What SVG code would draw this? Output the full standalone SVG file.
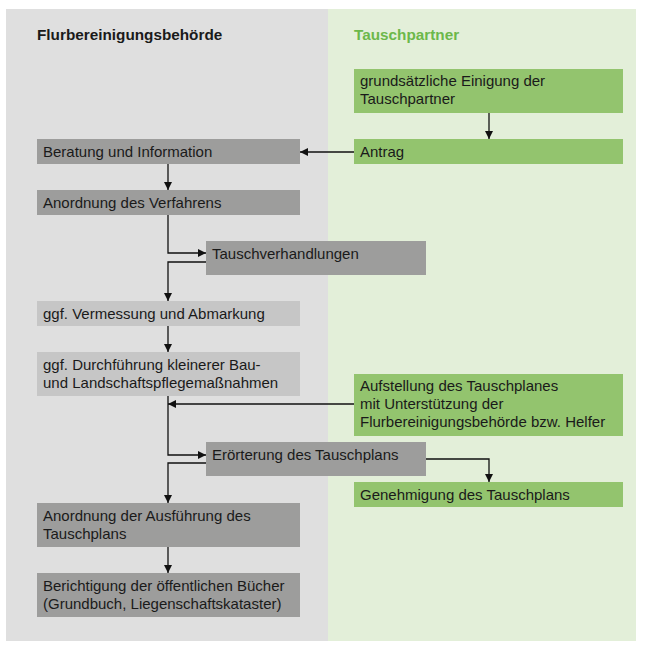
<svg xmlns="http://www.w3.org/2000/svg" width="645" height="645" viewBox="0 0 645 645">
<style>
.t{font-family:"Liberation Sans",Arial,sans-serif;font-size:15px;fill:#1a1a1a}
.h{font-family:"Liberation Sans",Arial,sans-serif;font-size:15.3px;font-weight:bold}
.dk{fill:#9d9d9c}
.lt{fill:#c6c6c6}
.gr{fill:#93c46e}
.c{fill:none;stroke:#111;stroke-width:1.3}
</style>
<defs>
<marker id="a" viewBox="0 0 10 10" refX="10" refY="5" markerWidth="8" markerHeight="8" markerUnits="userSpaceOnUse" orient="auto">
<path d="M0,0 L10,5 L0,10 z" fill="#111"/>
</marker>
</defs>
<rect x="0" y="0" width="645" height="645" fill="#fff"/>
<rect x="6" y="9" width="322" height="632" fill="#dfdfdf"/>
<rect x="328" y="9" width="308" height="632" fill="#e3efd9"/>
<text class="h" x="37" y="40" fill="#1a1a1a">Flurbereinigungsbehörde</text>
<text class="h" x="354" y="40" fill="#6cb84a">Tauschpartner</text>

<g id="n1"><rect class="gr" x="354" y="69" width="269" height="44"/><text class="t" x="360" y="86">grundsätzliche Einigung der</text><text class="t" x="360" y="104">Tauschpartner</text></g>
<g id="n2"><rect class="gr" x="354" y="139" width="269" height="25"/><text class="t" x="360" y="157">Antrag</text></g>
<g id="n3"><rect class="dk" x="37" y="139" width="263" height="25"/><text class="t" x="43" y="157">Beratung und Information</text></g>
<g id="n4"><rect class="dk" x="37" y="190" width="263" height="25"/><text class="t" x="43" y="208">Anordnung des Verfahrens</text></g>
<g id="n5"><rect class="dk" x="206" y="241" width="220" height="34"/><text class="t" x="212" y="259">Tauschverhandlungen</text></g>
<g id="n6"><rect class="lt" x="37" y="301" width="263" height="25"/><text class="t" x="43" y="319">ggf. Vermessung und Abmarkung</text></g>
<g id="n7"><rect class="lt" x="37" y="352" width="263" height="44"/><text class="t" x="43" y="370">ggf. Durchführung kleinerer Bau-</text><text class="t" x="43" y="388">und Landschaftspflegemaßnahmen</text></g>
<g id="n8"><rect class="gr" x="354" y="374" width="269" height="62"/><text class="t" x="360" y="391">Aufstellung des Tauschplanes</text><text class="t" x="360" y="409">mit Unterstützung der</text><text class="t" x="360" y="427">Flurbereinigungsbehörde bzw. Helfer</text></g>
<g id="n9"><rect class="dk" x="206" y="442" width="220" height="34"/><text class="t" x="212" y="460">Erörterung des Tauschplans</text></g>
<g id="n10"><rect class="gr" x="354" y="482" width="269" height="25"/><text class="t" x="360" y="500">Genehmigung des Tauschplans</text></g>
<g id="n11"><rect class="dk" x="37" y="503" width="263" height="44"/><text class="t" x="43" y="521">Anordnung der Ausführung des</text><text class="t" x="43" y="539">Tauschplans</text></g>
<g id="n12"><rect class="dk" x="37" y="573" width="263" height="44"/><text class="t" x="43" y="591">Berichtigung der öffentlichen Bücher</text><text class="t" x="43" y="609">(Grundbuch, Liegenschaftskataster)</text></g>

<g id="connectors">
<path class="c" d="M489,113 V139" marker-end="url(#a)"/>
<path class="c" d="M354,152 H300" marker-end="url(#a)"/>
<path class="c" d="M168,164 V190" marker-end="url(#a)"/>
<path class="c" d="M168,215 V253 H206" marker-end="url(#a)"/>
<path class="c" d="M206,262 H168 V301" marker-end="url(#a)"/>
<path class="c" d="M168,326 V352" marker-end="url(#a)"/>
<path class="c" d="M168,396 V455 H206" marker-end="url(#a)"/>
<path class="c" d="M354,404 H168" marker-end="url(#a)"/>
<path class="c" d="M206,463 H168 V503" marker-end="url(#a)"/>
<path class="c" d="M426,459 H489 V482" marker-end="url(#a)"/>
<path class="c" d="M168,547 V573" marker-end="url(#a)"/>
</g>
</svg>
